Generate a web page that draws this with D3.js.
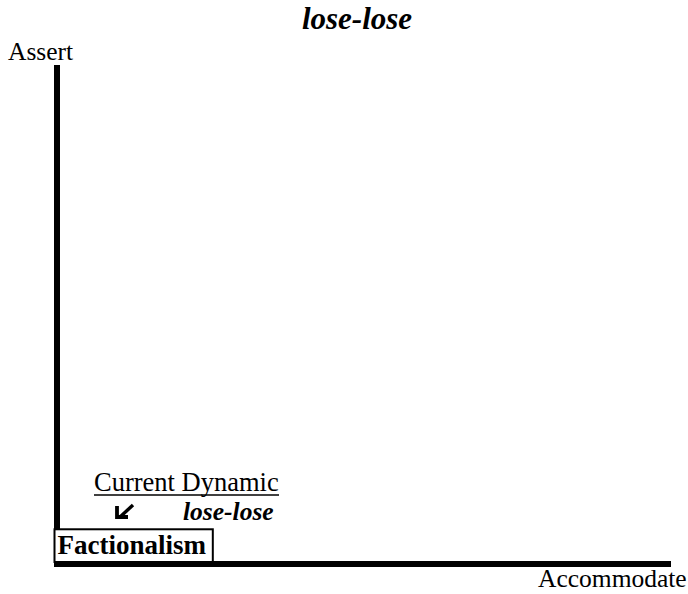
<!DOCTYPE html>
<html><head><meta charset="utf-8">
<script src="https://cdn.jsdelivr.net/npm/d3@7"></script>
<style>body{margin:0;background:#fff}</style>
</head><body><svg id="c" width="688" height="594"></svg>
<script>
const title = "lose-lose";
const axisLabels = {x: "Accommodate", y: "Assert"};
const xDomain = [0, 10];
const yDomain = [0, 10];
const quadrantLabels = ["Factionalism"];
const quadrantPos = [[0, 0]];        // data coords of the box's lower-left corner
const quadrantSize = [[2.55, 0.7]];  // box width/height in data units
const dynamicLabel = "Current Dynamic";
const dynamicOutcome = "lose-lose";

const svg = d3.select("#c");
const x = d3.scaleLinear().domain(xDomain).range([57, 668]);
const y = d3.scaleLinear().domain(yDomain).range([564, 68]);

function label(xp, yp, txt, size, opts = {}) {
  const t = svg.append("text").attr("x", xp).attr("y", yp)
    .style("font-family", '"Liberation Serif"').style("font-size", size + "px");
  if (opts.bold) t.style("font-weight", "bold");
  if (opts.italic) t.style("font-style", "italic");
  if (opts.anchor) t.attr("text-anchor", opts.anchor);
  return t.text(txt);
}

// axes
svg.append("path")
  .attr("d", d3.line()([[x(0), y(10)], [x(0), y(0)], [x(10), y(0)]]))
  .attr("fill", "none").attr("stroke", "#000").attr("stroke-width", 6)
  .attr("stroke-linejoin", "miter").attr("stroke-linecap", "square");

// title & axis labels
label(357, 29, title, 31, {bold: true, italic: true, anchor: "middle"});
label(8, 60, axisLabels.y, 25.5);
label(538, 587, axisLabels.x, 25.5);

// quadrant box
quadrantLabels.forEach((lab, i) => {
  const [px, py] = quadrantPos[i];
  const [w, h] = quadrantSize[i];
  const x0 = x(px) - 2.5, x1 = x(px + w);
  const yb = y(py) - 2, yt = y(py + h);
  svg.append("rect").attr("x", x0).attr("y", yt).attr("width", x1 - x0).attr("height", yb - yt)
    .attr("fill", "#fff").attr("stroke", "#000").attr("stroke-width", 2);
  label(x0 + 3, yb - 8, lab, 27, {bold: true});
});

// current dynamic annotation
label(94, 491, dynamicLabel, 26.5);
svg.append("line").attr("x1", 94).attr("x2", 279).attr("y1", 495).attr("y2", 495)
  .attr("stroke", "#000").attr("stroke-width", 1.4);
label(183, 520, dynamicOutcome, 25.5, {bold: true, italic: true});

// arrow (southwest)
const ax = 117, ay = 517;
svg.append("path")
  .attr("d", `M${ax + 16},${ay - 12} L${ax + 3},${ay}`)
  .attr("stroke", "#000").attr("stroke-width", 3.4).attr("fill", "none");
svg.append("path")
  .attr("d", `M${ax},${ay - 11} L${ax},${ay} L${ax + 11},${ay}`)
  .attr("stroke", "#000").attr("stroke-width", 3.8).attr("fill", "none")
  .attr("stroke-linejoin", "miter");
</script></body></html>
